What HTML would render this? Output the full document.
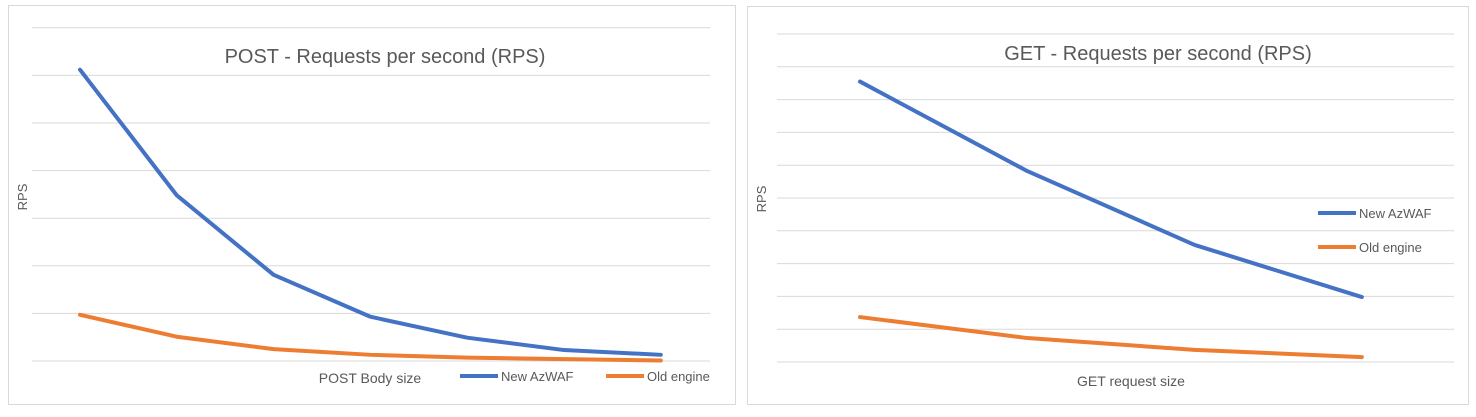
<!DOCTYPE html>
<html><head><meta charset="utf-8"><style>
html,body{margin:0;padding:0;background:#fff;}
svg{display:block;font-family:"Liberation Sans",sans-serif;}
</style></head><body>
<svg id="c" width="1476" height="417"></svg>
<script>
const postCats=["1","2","3","4","5","6","7"];
const postNew=[6.12,3.48,1.81,0.93,0.49,0.23,0.13];
const postOld=[0.97,0.51,0.25,0.13,0.07,0.04,0.01];
const getCats=["1","2","3","4"];
const getNew=[8.55,5.82,3.57,1.98];
const getOld=[1.37,0.73,0.37,0.15];
const NS="http://www.w3.org/2000/svg";
const svg=document.getElementById('c');
function mk(t,a,p){const e=document.createElementNS(NS,t);for(const k in a)e.setAttribute(k,a[k]);(p||svg).appendChild(e);return e;}
function chart(o){
  const g=mk('g',{});
  
  
  const b=mk('rect',{x:o.bx,y:o.by,width:o.bw,height:o.bh,fill:'#fff',stroke:'#d9d9d9','stroke-width':1},g);
  
  
  const y=v=>o.y0-v*o.step;
  for(let i=0;i<=o.n;i++){
    const l=mk('line',{x1:o.gx1,x2:o.gx2,y1:y(i),y2:y(i),stroke:'#d9d9d9','stroke-width':1},g);
    
    
  }
  const x=i=>o.x0+i*o.dx;
  const series=[[o.newV,'#4472c4','new-azwaf-line'],[o.oldV,'#ed7d31','old-engine-line']];
  series.forEach(([vals,col,nm])=>{
    const p=mk('polyline',{points:vals.map((v,i)=>x(i)+','+y(v)).join(' '),fill:'none',stroke:col,'stroke-width':4,'stroke-linejoin':'round','stroke-linecap':'round'},g);
    
    
  });
  const t=mk('text',{x:o.tx,y:o.ty,'text-anchor':'middle','font-size':20,fill:'#595959'},g);
  t.textContent=o.title;
  
  
  const r=mk('text',{x:0,y:0,'text-anchor':'middle','font-size':13,fill:'#595959',transform:`translate(${o.rx},${o.ry}) rotate(-90)`},g);
  r.textContent='RPS';
  
  
  const a=mk('text',{x:o.ax,y:o.ay,'text-anchor':o.aanchor,'font-size':14,fill:'#595959'},g);
  a.textContent=o.xtitle;
  
  
  o.leg.forEach(([lx,ly,col,txt])=>{
    const lg=mk('g',{},g);
    
    
    mk('line',{x1:lx,x2:lx+38,y1:ly,y2:ly,stroke:col,'stroke-width':4},lg);
    const tt=mk('text',{x:lx+41,y:ly+5,'font-size':13,fill:'#595959'},lg);
    tt.textContent=txt;
  });
}
chart({name:'post-rps-chart',bx:8.5,by:5.5,bw:727,bh:399,gx1:32,gx2:710,y0:361,step:47.6,n:7,
  x0:80,dx:96.8,newV:postNew,oldV:postOld,title:'POST - Requests per second (RPS)',tx:385,ty:63,
  rx:27,ry:197,xtitle:'POST Body size',ax:370,ay:383,aanchor:'middle',
  leg:[[460,376,'#4472c4','New AzWAF'],[606,376,'#ed7d31','Old engine']]});
chart({name:'get-rps-chart',bx:747.5,by:6.5,bw:721,bh:398,gx1:777,gx2:1454,y0:362,step:32.8,n:10,
  x0:860,dx:167.3,newV:getNew,oldV:getOld,title:'GET - Requests per second (RPS)',tx:1158,ty:60,
  rx:766,ry:199,xtitle:'GET request size',ax:1131,ay:386,aanchor:'middle',
  leg:[[1318,213,'#4472c4','New AzWAF'],[1318,247,'#ed7d31','Old engine']]});
</script>
</body></html>
